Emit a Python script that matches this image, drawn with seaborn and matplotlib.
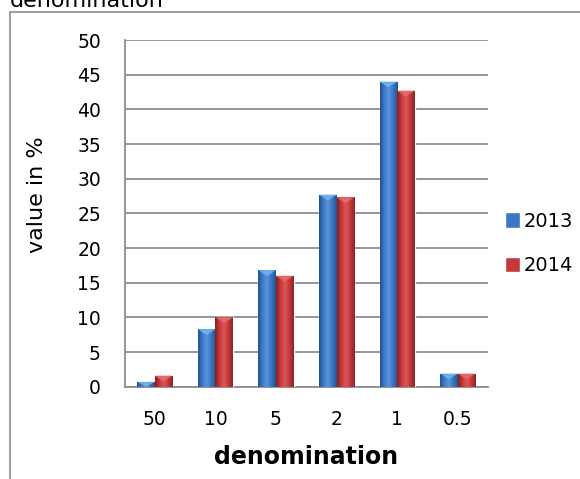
import numpy as np
import pandas as pd
import matplotlib
matplotlib.use("Agg")
import matplotlib.pyplot as plt
from matplotlib.patches import Rectangle, Polygon
from matplotlib.colors import LinearSegmentedColormap
import seaborn as sns

# data
denominations = ["50", "10", "5", "2", "1", "0.5"]
share_2013 = [0.7, 8.3, 16.8, 27.7, 44.0, 1.9]
share_2014 = [1.6, 10.0, 16.0, 27.3, 42.7, 1.9]
years = ["2013", "2014"]

df = pd.DataFrame({
    "denomination": denominations * 2,
    "value": share_2013 + share_2014,
    "year": [years[0]] * len(denominations) + [years[1]] * len(denominations),
})

sns.set_style("white")
plt.rcParams["font.family"] = ["DejaVu Sans"]
plt.rcParams["text.color"] = "black"
plt.rcParams["axes.labelcolor"] = "black"
plt.rcParams["xtick.labelcolor"] = "black"
plt.rcParams["ytick.labelcolor"] = "black"

W, H = 580, 479
fig = plt.figure(figsize=(W / 100, H / 100), dpi=100)
ax = fig.add_axes([124.5 / W, 1 - 386.7 / H, (488 - 124.5) / W, (386.7 - 40) / H])

blue, red = "#3c76c4", "#c43a3c"
sns.barplot(data=df, x="denomination", y="value", hue="year",
            palette=[blue, red], width=0.58, gap=0, saturation=1,
            order=denominations, hue_order=years, ax=ax, zorder=3)

# excel-like shading on the bars
shades = {
    blue: LinearSegmentedColormap.from_list("b", ["#22508c", "#3d7ccb", "#5a94dc", "#3a74c2", "#25558f"]),
    red: LinearSegmentedColormap.from_list("r", ["#86201f", "#c8393b", "#dc5557", "#c2393b", "#8e2628"]),
}
tops = {blue: "#70b2f2", red: "#e66c6e"}
grad = np.linspace(0, 1, 64).reshape(1, -1)
for bar in list(ax.patches):
    h = bar.get_height()
    if not h or np.isnan(h):
        continue
    x0, w = bar.get_x(), bar.get_width()
    fc = matplotlib.colors.to_hex(bar.get_facecolor())
    key = blue if fc == blue else red
    im = ax.imshow(grad, cmap=shades[key], extent=(x0, x0 + w, 0, h),
                   aspect="auto", zorder=3.1, interpolation="bilinear")
    im.set_clip_path(bar)
    d = min(0.85, h)
    tri = Polygon([(x0, h), (x0 + w, h), (x0 + w / 2, h - d)], closed=True,
                  facecolor=tops[key], edgecolor="none", zorder=3.2, alpha=0.9)
    ax.add_patch(tri)

ax.set_xlim(-0.5, 5.5)
ax.set_ylim(0, 50)
ax.set_yticks(range(0, 51, 5))
ax.yaxis.grid(True, color="#8c8c8c", linewidth=1.3, zorder=0)
ax.set_axisbelow(True)

# tick marks between categories, labels at centres
ax.set_xticks(np.arange(-0.5, 6, 1))
ax.set_xticklabels([])
ax.set_xticks(range(len(denominations)), minor=True)
ax.set_xticklabels(denominations, minor=True)
ax.tick_params(axis="x", which="major", length=6, width=1.3, color="#8c8c8c", direction="out")
ax.tick_params(axis="x", which="minor", length=0, pad=17, labelsize=13.5)
ax.tick_params(axis="y", length=6, width=1.3, color="#8c8c8c", direction="out", pad=11, labelsize=13.5)

for side in ["top", "right"]:
    ax.spines[side].set_visible(False)
for side in ["left", "bottom"]:
    ax.spines[side].set_color("#8c8c8c")
    ax.spines[side].set_linewidth(1.3)

ax.set_xlabel("denomination", fontsize=17, fontweight="bold", labelpad=11)
ax.set_ylabel("value in %", fontsize=16)
ax.yaxis.set_label_coords(-0.214, 0.553)

handles, labels = ax.get_legend_handles_labels()
ax.legend(handles, labels, loc="center left", bbox_to_anchor=(505 / W, 1 - 243.5 / H),
          bbox_transform=fig.transFigure, frameon=False, fontsize=14,
          borderpad=0, borderaxespad=0,
          handlelength=0.75, handleheight=0.85, handletextpad=0.2, labelspacing=1.3)

# chart frame and clipped title
fig.patches.append(Rectangle((10 / W, -0.1), 2, 1.1 - 12 / H, transform=fig.transFigure,
                             fill=False, edgecolor="#8c8c8c", linewidth=1.2))
fig.text(10 / W, 1 - 7 / H, "denomination", fontsize=16, va="baseline", ha="left")

fig.savefig("out.png", dpi=100)
